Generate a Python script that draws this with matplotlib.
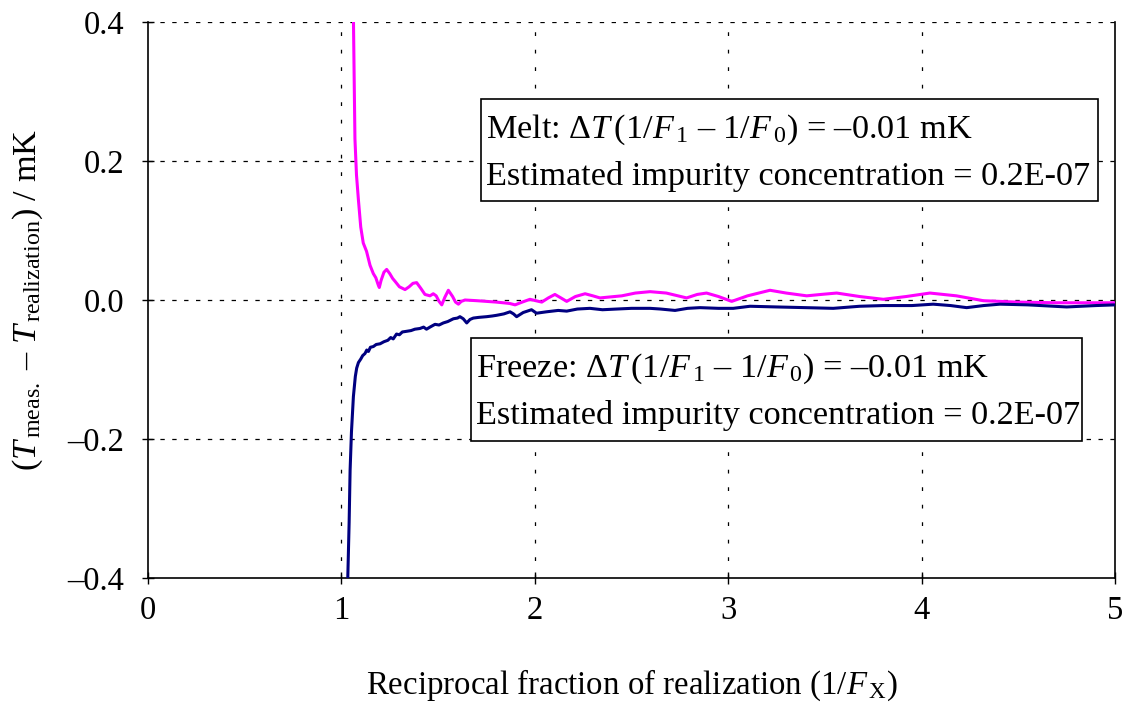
import matplotlib
matplotlib.use('Agg')
import matplotlib.pyplot as plt
from matplotlib.patches import Rectangle

plt.rcParams['font.family'] = ['Liberation Serif', 'DejaVu Serif']
plt.rcParams['mathtext.fontset'] = 'custom'
plt.rcParams['mathtext.rm'] = 'Liberation Serif'
plt.rcParams['mathtext.it'] = 'Liberation Serif:italic'
plt.rcParams['mathtext.bf'] = 'Liberation Serif:bold'

# melt curve (magenta)
melt_x = [1.062, 1.066, 1.070, 1.078, 1.088, 1.100, 1.113, 1.130, 1.148, 1.165,
          1.178, 1.190, 1.196, 1.205, 1.220, 1.234, 1.250, 1.265, 1.277, 1.300,
          1.329, 1.350, 1.370, 1.389, 1.410, 1.432, 1.458, 1.475, 1.490, 1.505,
          1.519, 1.535, 1.553, 1.575, 1.590, 1.605, 1.620, 1.639, 1.700, 1.751,
          1.800, 1.837, 1.870, 1.898, 1.935, 1.975, 2.005, 2.036, 2.070, 2.104,
          2.135, 2.165, 2.210, 2.260, 2.300, 2.337, 2.450, 2.520, 2.596, 2.680,
          2.785, 2.840, 2.888, 2.950, 3.018, 3.100, 3.216, 3.300, 3.406, 3.480,
          3.561, 3.680, 3.802, 3.920, 4.043, 4.180, 4.319, 4.491, 4.700, 5.000]
melt_y = [0.41, 0.32, 0.232, 0.18, 0.144, 0.105, 0.082, 0.07, 0.05, 0.038,
          0.032, 0.022, 0.018, 0.028, 0.040, 0.044, 0.038, 0.031, 0.027, 0.019,
          0.015, 0.019, 0.024, 0.025, 0.017, 0.008, 0.006, 0.009, 0.006, -0.002,
          -0.007, 0.004, 0.014, 0.005, -0.003, -0.006, -0.002, 0.000, -0.001, -0.002,
          -0.003, -0.004, -0.005, -0.007, -0.003, 0.001, -0.001, -0.003, 0.003, 0.008,
          0.003, -0.002, 0.005, 0.009, 0.006, 0.003, 0.006, 0.010, 0.012, 0.010,
          0.003, 0.008, 0.010, 0.005, -0.002, 0.006, 0.014, 0.010, 0.006, 0.008,
          0.010, 0.005, 0.001, 0.005, 0.010, 0.006, -0.001, -0.003, -0.004, -0.004]

# freeze curve (navy)
freeze_x = [1.033, 1.040, 1.045, 1.052, 1.062, 1.072, 1.079, 1.088, 1.100, 1.110,
            1.122, 1.131, 1.140, 1.150, 1.165, 1.180, 1.200, 1.220, 1.240, 1.255,
            1.268, 1.285, 1.300, 1.315, 1.338, 1.360, 1.380, 1.406, 1.425, 1.440,
            1.458, 1.484, 1.505, 1.527, 1.550, 1.579, 1.600, 1.613, 1.630, 1.648,
            1.665, 1.682, 1.710, 1.751, 1.780, 1.803, 1.840, 1.872, 1.890, 1.906,
            1.940, 1.983, 2.009, 2.060, 2.121, 2.165, 2.220, 2.285, 2.350, 2.423,
            2.500, 2.596, 2.650, 2.725, 2.790, 2.854, 2.950, 3.026, 3.113, 3.250,
            3.400, 3.543, 3.680, 3.802, 3.950, 4.060, 4.150, 4.233, 4.320, 4.405,
            4.550, 4.750, 4.900, 5.000]
freeze_y = [-0.40, -0.32, -0.245, -0.19, -0.139, -0.11, -0.098, -0.090, -0.085, -0.080,
            -0.077, -0.072, -0.074, -0.068, -0.067, -0.064, -0.063, -0.060, -0.058, -0.054,
            -0.056, -0.049, -0.050, -0.046, -0.045, -0.044, -0.042, -0.041, -0.039, -0.042,
            -0.039, -0.035, -0.036, -0.033, -0.031, -0.027, -0.026, -0.024, -0.027, -0.033,
            -0.028, -0.026, -0.025, -0.024, -0.023, -0.022, -0.020, -0.017, -0.020, -0.024,
            -0.018, -0.014, -0.019, -0.017, -0.015, -0.016, -0.013, -0.012, -0.014, -0.013,
            -0.012, -0.012, -0.013, -0.015, -0.012, -0.011, -0.012, -0.012, -0.009, -0.010,
            -0.011, -0.012, -0.009, -0.008, -0.008, -0.006, -0.008, -0.011, -0.008, -0.006,
            -0.007, -0.010, -0.008, -0.007]

xticks = [0, 1, 2, 3, 4, 5]
yticks = [-0.4, -0.2, 0.0, 0.2, 0.4]
ytick_labels = ['\u20130.4', '\u20130.2', '0.0', '0.2', '0.4']

DASH = '\u2013'
melt_lines = [r'Melt: $\Delta T\,(1/F_{\,1}$ ' + DASH + r' $1/F_{\,0})$ = ' + DASH + '0.01 mK',
              'Estimated impurity concentration = 0.2E-07']
freeze_lines = [r'Freeze: $\Delta T\,(1/F_{\,1}$ ' + DASH + r' $1/F_{\,0})$ = ' + DASH + '0.01 mK',
                'Estimated impurity concentration = 0.2E-07']

fs_tick = 23.5
fs_label = 23.7
fs_box = 24.7

fig = plt.figure(figsize=(11.28, 7.02), dpi=100)
ax = fig.add_axes([148/1128, 1 - 578/702, 967/1128, 556/702])

ax.plot(melt_x, melt_y, color='#FF00FF', lw=2.2, zorder=3)
ax.plot(freeze_x, freeze_y, color='#000080', lw=2.2, zorder=3)

ax.set_xlim(0, 5)
ax.set_ylim(-0.4, 0.4)
ax.set_xticks(xticks)
ax.set_yticks(yticks)
ax.set_yticklabels(ytick_labels)

for yv in yticks[1:]:
    ax.axhline(yv, color='black', lw=0.9, ls=(0, (3.5, 6)), zorder=1)
for xv in xticks[1:-1]:
    ax.axvline(xv, color='black', lw=0.9, ls=(0, (3, 11)), zorder=1)

ax.spines['top'].set_visible(False)
for s in ['left', 'bottom', 'right']:
    ax.spines[s].set_linewidth(1.2)
ax.tick_params(axis='both', direction='inout', length=8.5, width=1, labelsize=fs_tick)
ax.tick_params(axis='y', pad=13)
ax.tick_params(axis='x', pad=8)

ax.set_xlabel(r'Reciprocal fraction of realization (1/$F_{\,\mathrm{X}}$)', fontsize=fs_label, labelpad=30)
ax.set_ylabel(r'($T_{\,\mathrm{meas.}}$ ' + DASH + r' $T_{\,\mathrm{realization}}$) / mK',
              fontsize=fs_box, labelpad=16)

def box(x0, y0, x1, y1, lines):
    ax.add_patch(Rectangle((x0, y0), x1 - x0, y1 - y0, transform=ax.transAxes,
                           fc='white', ec='black', lw=1.2, zorder=4))
    h = y1 - y0
    ax.text(x0 + 0.005, y1 - 0.30 * h, lines[0], transform=ax.transAxes,
            fontsize=fs_box, va='center', ha='left', zorder=5)
    ax.text(x0 + 0.005, y1 - 0.755 * h, lines[1], transform=ax.transAxes,
            fontsize=fs_box, va='center', ha='left', zorder=5)

box((481 - 148) / 967, (578 - 201) / 556, (1098 - 148) / 967, (578 - 99) / 556, melt_lines)
box((471 - 148) / 967, (578 - 441) / 556, (1082 - 148) / 967, (578 - 338) / 556, freeze_lines)

fig.savefig('out.png', dpi=100)
